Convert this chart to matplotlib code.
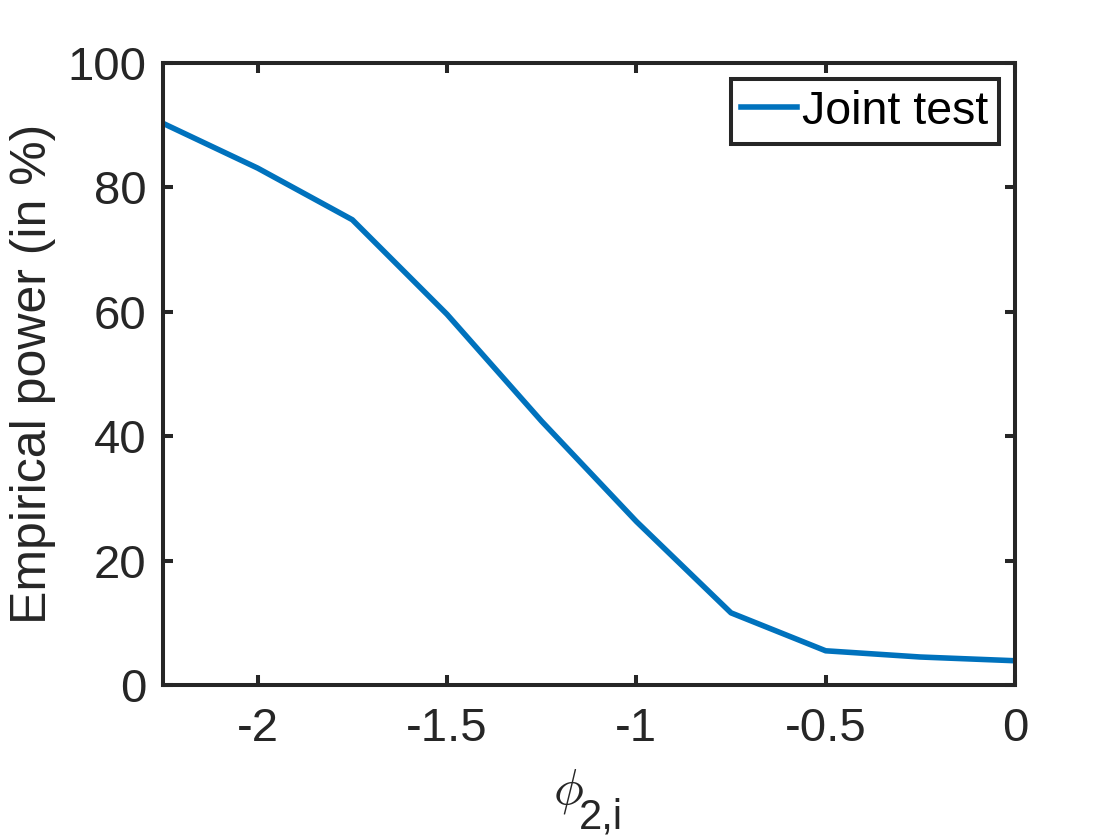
import matplotlib
matplotlib.use("Agg")
import matplotlib.pyplot as plt

phi = [-2.25, -2.0, -1.75, -1.5, -1.25, -1.0, -0.75, -0.5, -0.25, 0.0]
power = [90.3, 83.1, 74.8, 59.6, 42.4, 26.3, 11.6, 5.5, 4.5, 3.9]
xticks = [-2, -1.5, -1, -0.5, 0]
xticklabels = ['-2', '-1.5', '-1', '-0.5', '0']
yticks = [0, 20, 40, 60, 80, 100]

plt.rcParams['font.family'] = ['Liberation Sans', 'DejaVu Sans']
plt.rcParams['mathtext.fontset'] = 'cm'

dark = '#262626'
fig = plt.figure(figsize=(11.2, 8.4), dpi=100)
ax = fig.add_axes([163/1120, 1-685/840, (1015-163)/1120, (685-63)/840])
ax.plot(phi, power, color='#0072BD', lw=4.0, label='Joint test')
ax.set_xlim(-2.25, 0)
ax.set_ylim(0, 100)
ax.set_xticks(xticks)
ax.set_xticklabels(xticklabels)
ax.set_yticks(yticks)
for s in ax.spines.values():
    s.set_linewidth(2.9)
    s.set_color(dark)
ax.tick_params(direction='in', length=7, width=2.9, colors=dark, labelsize=34,
               top=True, right=True, pad=12)
ax.tick_params(axis='x', pad=16)
ax.set_ylabel('Empirical power (in %)', fontsize=36, color=dark, labelpad=8)
# x label: phi with subscript "2,i"
fig.text(568/1120, 1-792/840, r'$\phi$', ha='center', va='center',
         fontsize=36, color=dark)
fig.text(601/1120, 1-817/840, '2,i', ha='center', va='center',
         fontsize=30, color=dark)
leg = ax.legend(loc='upper right', fontsize=33.5, fancybox=False, framealpha=1,
                edgecolor=dark, handlelength=1.2, handletextpad=0.12,
                borderpad=0.22, borderaxespad=0.35)
leg.get_frame().set_linewidth(2.9)
fig.savefig('out.png', dpi=100, facecolor='white')
